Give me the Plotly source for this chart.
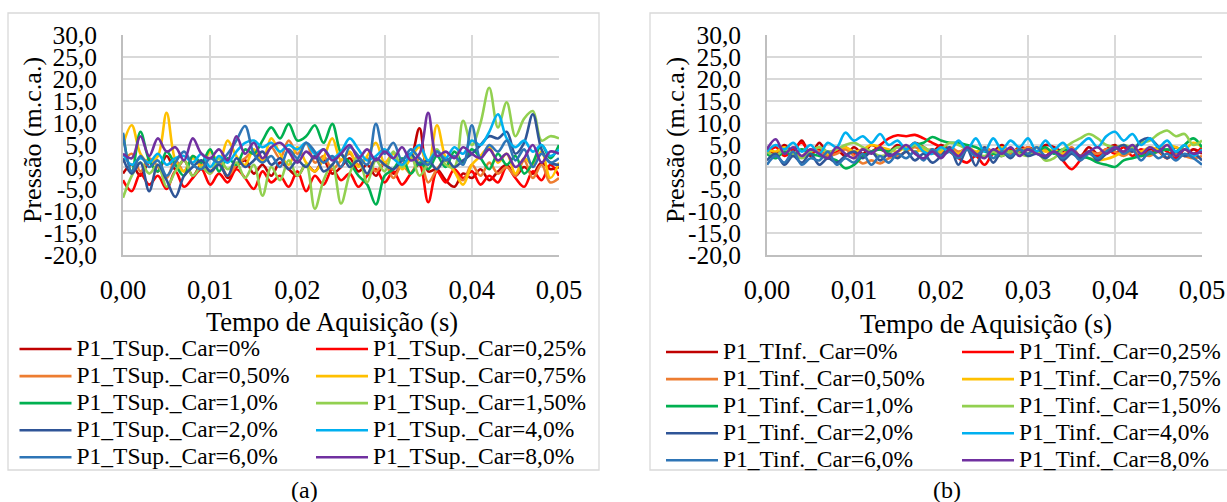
import plotly.graph_objects as go

tempo = [0.000, 0.001, 0.002, 0.003, 0.004, 0.005, 0.006, 0.007, 0.008, 0.009,
         0.010, 0.011, 0.012, 0.013, 0.014, 0.015, 0.016, 0.017, 0.018, 0.019,
         0.020, 0.021, 0.022, 0.023, 0.024, 0.025, 0.026, 0.027, 0.028, 0.029,
         0.030, 0.031, 0.032, 0.033, 0.034, 0.035, 0.036, 0.037, 0.038, 0.039,
         0.040, 0.041, 0.042, 0.043, 0.044, 0.045, 0.046, 0.047, 0.048, 0.049, 0.050]

y_ticks = [-20, -15, -10, -5, 0, 5, 10, 15, 20, 25, 30]
y_ticklabels = ["-20,0", "-15,0", "-10,0", "-5,0", "0,0", "5,0", "10,0", "15,0", "20,0", "25,0", "30,0"]
x_ticks = [0.00, 0.01, 0.02, 0.03, 0.04, 0.05]
x_ticklabels = ["0,00", "0,01", "0,02", "0,03", "0,04", "0,05"]

cargas = ["0%", "0,25%", "0,50%", "0,75%", "1,0%", "1,50%", "2,0%", "4,0%", "6,0%", "8,0%"]
cores = ["#C00000", "#FF0000", "#ED7D31", "#FFC000", "#00B050", "#92D050",
         "#2F5597", "#00B0F0", "#2E75B6", "#7030A0"]

nomes_a = ["P1_TSup._Car=" + c for c in cargas]
nomes_b = ["P1_TInf._Car=0%"] + ["P1_Tinf._Car=" + c for c in cargas[1:]]

# (a) Tomada superior
sup_0 = [-1.5, 0.5, -2.0, 1.0, -1.0, 2.5, -0.5, 1.5, -2.0, 0.5, -1.0, 1.0, -2.5, 0.0, 1.5, -1.5, 0.5, -2.0, 1.0, -0.5, -2.0, 0.5, -1.0, 1.5, -1.5, 0.0, 2.0, -1.0, 0.5, -2.0, 1.0, -1.5, 0.5, 2.0, 8.8, -1.0, -0.5, -3.0, -4.5, -1.5, -2.5, -0.5, -3.0, -1.0, 0.5, -2.0, 0.0, -1.5, 1.0, -0.5, 0.0]
sup_025 = [-3.0, -5.5, -1.5, -4.0, -2.0, -5.0, -1.0, -4.5, -2.5, -0.5, -4.0, -1.5, -3.5, -0.5, -2.5, -5.0, -1.0, -3.5, -2.0, -4.5, -1.0, -5.5, -2.0, -4.0, -0.5, -3.0, -1.5, -4.5, -2.0, -0.5, -3.5, -1.0, -4.0, -1.5, 0.5, -8.0, -1.0, -3.5, -0.5, -2.5, -1.0, -4.0, -2.0, -3.5, 0.0, -2.5, -4.5, -1.0, -3.0, 0.5, -2.0]
sup_050 = [1.0, 3.0, -1.0, 2.0, 0.0, -2.5, 1.5, -1.0, 2.5, 0.5, -1.5, 1.0, -2.0, 0.5, 2.0, 3.5, 1.0, 4.5, 2.0, 6.0, 3.0, 5.5, 1.0, 2.5, -0.5, 1.5, 3.0, 0.5, 2.0, -1.0, 1.0, -2.5, 0.5, -1.5, 2.0, -3.5, -0.5, 1.5, -1.0, -3.0, 0.5, -2.0, 1.0, -1.5, 0.0, -2.0, 1.5, -2.5, 0.5, -3.5, -2.5]
sup_075 = [5.0, 9.5, 3.0, 1.0, 2.5, 12.3, 1.5, -1.0, 2.0, 0.0, 3.5, 1.0, 6.0, 2.5, 0.5, 4.0, 1.5, 6.5, 3.0, 0.5, 4.5, 1.0, -1.0, 2.0, 6.5, 1.5, 3.5, 0.0, 2.5, 5.5, 1.0, 3.0, -0.5, 2.0, 4.5, 0.5, 9.5, 2.0, -1.0, -4.0, 0.5, 2.5, 4.5, 1.0, 3.0, -1.5, 2.0, 0.5, 3.5, -2.5, 1.0]
sup_10 = [7.5, -1.0, 8.0, 1.5, -1.0, 3.5, 0.5, -2.0, 2.5, 1.0, 4.0, -1.0, 2.0, 0.5, 4.0, 3.0, 6.0, 9.0, 6.5, 9.8, 6.0, 7.0, 9.5, 5.5, 9.8, 3.0, 1.0, -2.0, -4.0, -8.5, -2.0, -0.5, 2.0, -1.5, 1.0, -0.5, 2.5, 0.0, 3.5, 1.0, 4.0, 2.0, -0.5, 3.0, 0.5, 2.5, -1.5, 1.0, 5.0, 2.0, 5.0]
sup_150 = [-7.0, -2.0, 1.0, -1.5, 0.5, -4.5, -1.0, 1.5, -2.0, 0.0, -1.5, 2.0, -0.5, 1.0, -2.5, 0.5, -6.5, 0.0, -3.0, 1.5, -2.0, 0.5, -9.5, -3.0, 0.5, -8.3, -1.5, 2.5, -3.5, 1.5, -1.0, 3.5, 0.0, 2.5, -2.0, 1.0, 4.0, 0.5, 0.0, 10.5, 5.0, 10.0, 18.0, 9.0, 14.7, 7.0, 11.0, 12.7, 6.0, 7.0, 6.5]
sup_20 = [2.0, -1.5, 1.0, -5.5, 0.5, -3.0, -6.8, -2.0, 0.0, 1.5, -1.0, 0.5, -2.0, 2.0, 0.0, 1.5, 3.5, 0.5, 2.0, -0.5, 1.5, 0.0, 2.5, -1.0, 0.5, 3.0, 0.0, 1.5, -1.5, 2.0, 0.5, -0.5, 1.5, 3.0, 0.5, 1.5, -0.5, 2.0, 0.0, 1.5, 3.0, 5.0, 7.0, 6.5, 8.0, 3.0, 5.5, 12.0, 4.0, 1.0, 0.5]
sup_40 = [3.0, 0.5, 2.0, 1.0, 3.0, 0.5, 2.0, 2.5, 1.0, 3.0, 0.0, 2.5, 1.0, 3.5, 5.5, 6.0, 4.5, 5.5, 3.5, 5.0, 4.0, 5.5, 3.0, 4.0, 2.0, 3.5, 6.5, 4.0, 1.5, 2.5, 4.0, 2.0, 0.5, 3.0, 5.0, 1.5, 3.5, 2.0, 4.5, 3.0, 6.0, 5.0, 8.0, 12.0, 6.5, 4.5, 6.0, 3.5, 5.0, 2.5, 4.0]
sup_60 = [7.8, -1.0, 2.5, 0.0, 1.5, -2.0, 1.0, 3.5, 0.5, -0.5, 2.0, 1.0, 3.0, 6.0, 9.3, 3.0, 1.0, 2.5, 0.0, 4.0, 2.0, 5.5, 3.5, 1.0, 2.5, 0.0, 4.5, 2.5, 0.5, 9.8, 3.0, 5.5, 1.5, 4.0, 2.0, 0.5, 3.5, 1.5, 2.5, 0.5, 9.5, 2.0, 5.0, 3.5, 6.0, 1.5, 4.0, 0.0, 3.0, 1.0, 2.0]
sup_80 = [3.0, 2.0, 7.0, 2.5, 6.5, 3.5, 4.5, 1.5, 6.5, 3.0, 2.0, 4.0, 1.5, 7.0, 3.0, 5.5, 2.0, 4.5, 5.5, 3.5, 1.0, 3.5, 2.0, 4.0, 1.5, 3.0, 5.0, 2.0, 4.0, 1.5, 3.5, 2.0, 4.5, 1.5, 3.0, 12.3, 2.5, 3.5, 2.0, 4.5, 3.0, 2.0, 4.0, 1.5, 3.0, 0.0, 2.0, 5.0, 1.0, 3.5, 3.0]

# (b) Tomada inferior
inf_0 = [4.5, 3.0, 5.0, 3.5, 6.0, 2.5, 5.5, 3.0, 4.0, 2.5, 4.5, 3.0, 5.0, 4.0, 3.5, 5.0, 4.0, 5.5, 4.5, 3.5, 5.0, 4.0, 3.0, 4.5, 2.5, 4.0, 3.5, 5.0, 3.0, 4.5, 4.0, 3.0, 5.0, 4.5, 3.5, 4.0, 2.5, 4.5, 3.0, 4.0, 5.0, 3.0, 4.5, 2.5, 4.0, 3.5, 2.0, 4.5, 2.5, 4.0, 3.0]
inf_025 = [3.0, 4.5, 2.5, 4.0, 5.5, 3.0, 4.0, 2.5, 3.5, 4.5, 3.0, 4.0, 3.5, 5.0, 6.5, 7.2, 7.0, 7.3, 6.5, 5.5, 4.5, 3.5, 2.0, 1.0, 2.5, 0.5, 3.0, 2.5, 4.0, 3.0, 4.5, 3.5, 2.5, 4.0, 1.5, -0.5, 1.5, 3.5, 2.5, 4.0, 3.0, 4.5, 2.5, 4.0, 3.0, 4.5, 3.5, 2.0, 4.0, 3.0, 4.5]
inf_050 = [3.5, 2.5, 4.0, 3.0, 2.5, 4.0, 3.5, 2.5, 3.0, 4.0, 2.5, 0.8, 1.5, 0.8, 2.0, 2.5, 3.5, 4.5, 3.5, 4.0, 3.0, 4.5, 3.5, 4.0, 3.0, 4.5, 3.5, 4.0, 3.0, 3.5, 4.5, 3.0, 4.0, 3.5, 3.0, 4.5, 2.5, 3.5, 3.0, 4.0, 3.5, 2.5, 3.5, 3.0, 2.5, 3.5, 2.0, 3.0, 2.5, 2.0, 2.5]
inf_075 = [4.0, 3.5, 4.5, 3.0, 4.0, 3.5, 4.5, 3.0, 4.0, 4.5, 3.5, 4.0, 5.0, 4.5, 4.0, 3.5, 4.5, 3.5, 4.0, 3.0, 3.5, 4.0, 3.0, 4.5, 3.5, 4.0, 3.0, 4.5, 3.5, 4.0, 3.0, 4.5, 3.5, 4.0, 3.0, 3.5, 2.5, 2.0, 1.5, 1.8, 2.5, 3.5, 4.0, 3.5, 4.5, 4.0, 5.0, 4.5, 4.0, 5.5, 4.5]
inf_10 = [3.0, 2.0, 3.5, 2.5, 4.0, 3.0, 2.5, 2.0, 1.5, -0.3, 0.5, 2.5, 3.5, 4.0, 3.5, 4.5, 4.0, 5.0, 5.5, 6.8, 6.0, 5.5, 5.5, 5.0, 4.5, 3.5, 3.0, 2.5, 3.5, 3.0, 4.0, 3.5, 4.5, 3.0, 4.0, 3.5, 2.5, 2.0, 1.0, 0.5, 0.0, 1.5, 2.0, 2.5, 3.0, 3.5, 4.0, 3.5, 5.0, 6.5, 4.5]
inf_150 = [3.5, 2.5, 4.0, 3.0, 2.0, 3.5, 4.5, 3.5, 4.0, 5.0, 5.5, 4.5, 3.5, 2.5, 3.0, 4.5, 4.0, 5.0, 4.5, 3.5, 4.0, 5.5, 5.0, 4.0, 3.0, 2.5, 3.5, 2.5, 3.5, 3.0, 2.5, 3.5, 1.5, 2.0, 4.0, 5.5, 6.5, 7.5, 6.5, 5.0, 4.5, 5.0, 4.5, 5.5, 6.0, 7.5, 8.3, 7.0, 7.5, 5.0, 6.0]
inf_20 = [1.5, 3.0, 0.5, 2.5, 1.0, 3.0, 0.5, 2.0, 1.0, 2.5, 3.5, 2.0, 3.5, 1.5, 3.0, 2.0, 3.5, 1.5, 3.0, 1.0, 2.5, 4.5, 0.5, 4.0, 0.3, 4.5, 1.0, 3.5, 2.0, 4.0, 2.5, 3.0, 2.0, 3.5, 1.5, 3.0, 2.0, 3.5, 1.5, 3.0, 4.0, 5.0, 3.5, 6.0, 6.5, 4.5, 2.0, 3.5, 2.5, 3.0, 1.5]
inf_40 = [3.5, 5.0, 4.0, 5.5, 3.5, 5.0, 3.0, 5.5, 4.5, 7.8, 6.0, 7.0, 5.5, 7.5, 5.0, 6.0, 4.0, 5.5, 3.5, 3.0, 4.5, 3.5, 6.0, 4.0, 6.5, 3.5, 6.5, 4.0, 6.0, 4.5, 6.5, 3.5, 6.0, 4.0, 5.5, 3.5, 5.0, 6.5, 4.5, 7.0, 8.0, 6.0, 7.5, 5.0, 6.5, 4.5, 6.0, 3.5, 5.0, 2.5, 4.0]
inf_60 = [0.5, 2.5, 1.0, 3.5, 0.5, 2.0, 1.5, 3.5, 0.5, 2.0, 1.0, 3.0, 0.5, 2.5, 1.0, 3.0, 2.0, 3.5, 1.5, 4.0, 2.5, 3.5, 2.0, 4.0, 2.5, 4.0, 2.0, 3.5, 2.5, 4.0, 3.0, 4.5, 2.5, 3.5, 2.0, 3.5, 1.5, 3.0, 2.0, 3.5, 4.5, 3.0, 4.0, 1.5, 3.5, 2.0, 3.0, 1.5, 3.0, 2.0, 0.5]
inf_80 = [4.0, 6.3, 3.0, 4.5, 2.5, 4.0, 3.0, 2.0, 4.5, 3.0, 2.0, 4.0, 3.0, 4.5, 2.5, 3.5, 5.0, 3.0, 2.0, 3.5, 2.0, 4.0, 2.5, 4.5, 3.0, 2.0, 4.0, 3.0, 4.5, 2.5, 4.0, 3.0, 2.5, 3.5, 2.5, 4.0, 2.5, 3.5, 4.5, 3.0, 4.5, 3.5, 5.0, 3.0, 4.5, 3.5, 5.0, 2.5, 4.0, 3.0, 3.5]

series_a = [sup_0, sup_025, sup_050, sup_075, sup_10, sup_150, sup_20, sup_40, sup_60, sup_80]
series_b = [inf_0, inf_025, inf_050, inf_075, inf_10, inf_150, inf_20, inf_40, inf_60, inf_80]

FONT = "Liberation Serif, DejaVu Serif, serif"
W, H = 1227, 502
LEG_TXT = 23.5

def px(x):
    return x / W

def py(y):
    return 1 - y / H

def leg_name(n):
    return '<span style="font-size:%spx">%s</span>' % (LEG_TXT, n)

fig = go.Figure()

for i in range(10):
    leg = "legend" if i % 2 == 0 else "legend2"
    fig.add_trace(go.Scatter(x=tempo, y=series_a[i], name=leg_name(nomes_a[i]), mode="lines",
                             line=dict(color=cores[i], width=2.6, shape="spline", smoothing=1.0),
                             xaxis="x", yaxis="y", legend=leg))
for i in range(10):
    leg = "legend3" if i % 2 == 0 else "legend4"
    fig.add_trace(go.Scatter(x=tempo, y=series_b[i], name=leg_name(nomes_b[i]), mode="lines",
                             line=dict(color=cores[i], width=2.6, shape="spline", smoothing=1.0),
                             xaxis="x2", yaxis="y2", legend=leg))

def xax(dom, anchor):
    return dict(domain=dom, anchor=anchor, range=[0, 0.05],
                tickmode="array", tickvals=x_ticks, ticktext=x_ticklabels, automargin=False,
                showgrid=True, gridcolor="#D9D9D9", gridwidth=1.6,
                zeroline=False, showline=True, linecolor="#BFBFBF", linewidth=1.6,
                ticks="outside", ticklen=10, tickcolor="rgba(0,0,0,0)",
                tickfont=dict(family=FONT, size=26.5, color="#000000"), fixedrange=True)

def yax(dom, anchor):
    return dict(domain=dom, anchor=anchor, range=[-20, 30],
                tickmode="array", tickvals=y_ticks, ticktext=y_ticklabels, automargin=False,
                showgrid=True, gridcolor="#D9D9D9", gridwidth=1.6,
                zeroline=False, showline=True, linecolor="#BFBFBF", linewidth=1.6,
                ticks="outside", ticklen=19, tickcolor="rgba(0,0,0,0)",
                tickfont=dict(family=FONT, size=25.5, color="#000000"), fixedrange=True)

ydom = [py(255), py(35)]

leg_common = dict(orientation="v", font=dict(family=FONT, size=18.5, color="#000000"),
                  bgcolor="rgba(0,0,0,0)", borderwidth=0, xanchor="left", yanchor="top",
                  tracegroupgap=0, itemwidth=52, itemclick=False, itemdoubleclick=False)

def ann(text, x, y, size, angle=0):
    return dict(text=text, xref="paper", yref="paper", x=px(x), y=py(y),
                xanchor="center", yanchor="middle", textangle=angle,
                showarrow=False, font=dict(family=FONT, size=size, color="#000000"))

fig.update_layout(
    template="none",
    width=W, height=H, margin=dict(l=0, r=0, t=0, b=0, pad=0, autoexpand=False),
    paper_bgcolor="white", plot_bgcolor="white",
    showlegend=True,
    font=dict(family=FONT, size=21, color="#000000"),
    xaxis=xax([px(123), px(559)], "y"),
    yaxis=yax(ydom, "x"),
    xaxis2=xax([px(767), px(1202)], "y2"),
    yaxis2=yax(ydom, "x2"),
    legend=dict(x=px(14.5), y=py(330.5), **leg_common),
    legend2=dict(x=px(311), y=py(330.5), **leg_common),
    legend3=dict(x=px(661), y=py(333.5), **leg_common),
    legend4=dict(x=px(957), y=py(333.5), **leg_common),
    shapes=[
        dict(type="rect", xref="paper", yref="paper", x0=px(8), x1=px(599), y0=py(470), y1=py(13),
             line=dict(color="#D9D9D9", width=1.3), layer="below"),
        dict(type="rect", xref="paper", yref="paper", x0=px(650), x1=px(1240), y0=py(470), y1=py(13),
             line=dict(color="#D9D9D9", width=1.3), layer="below"),
    ],
    annotations=[
        ann("Pressão (m.c.a.)", 32, 140, 26, -90),
        ann("Pressão (m.c.a.)", 675, 140, 26, -90),
        ann("Tempo de Aquisição (s)", 332, 322, 26.5),
        ann("Tempo de Aquisição (s)", 986, 324, 26.5),
        ann("(a)", 304, 490, 24),
        ann("(b)", 947, 490, 24),
    ],
)

fig.write_html("out.html")
